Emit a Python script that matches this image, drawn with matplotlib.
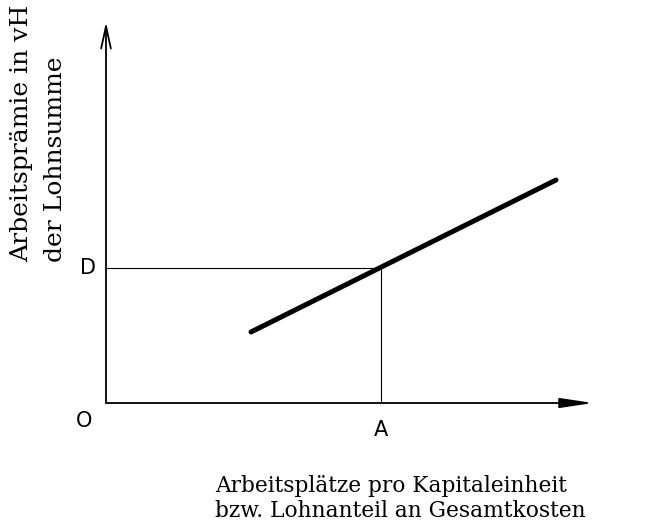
import matplotlib
matplotlib.use("Agg")
import matplotlib.pyplot as plt

# Point labels and positions (arbitrary units, origin O)
point_labels = ["O", "D", "A"]
a_x = 5.5
d_y = 2.7

# Thick relation line
line_x = [2.9, 9.0]
line_y = [1.42, 4.46]

# Axis extents
x_axis_end = 9.74
y_axis_end = 7.62

y_label_lines = ["Arbeitsprämie in vH", "der Lohnsumme"]
x_label_lines = ["Arbeitsplätze pro Kapitaleinheit", "bzw. Lohnanteil an Gesamtkosten"]

W, H = 664, 529
fig = plt.figure(figsize=(W / 100, H / 100), dpi=100)
ax = fig.add_axes([106 / W, (H - 403) / H, 500 / W, 400 / H])
ax.set_xlim(0, 10)
ax.set_ylim(0, 8)
ax.axis("off")

# axes as arrows
ax.annotate("", xy=(0, y_axis_end), xytext=(0, 0),
            arrowprops=dict(arrowstyle="->,head_length=1.6,head_width=0.35", lw=1.3, color="black",
                            shrinkA=0, shrinkB=0))
ax.annotate("", xy=(x_axis_end, 0), xytext=(0, 0),
            arrowprops=dict(arrowstyle="-|>,head_length=2.0,head_width=0.3", lw=1.3, color="black",
                            shrinkA=0, shrinkB=0))

# guide lines to D and A
ax.plot([0, a_x], [d_y, d_y], color="black", lw=0.8)
ax.plot([a_x, a_x], [0, d_y], color="black", lw=0.8)

# the thick line
ax.plot(line_x, line_y, color="black", lw=3.6, solid_capstyle="round")

sans = "DejaVu Sans"
ax.text(-0.36, d_y, point_labels[1], ha="center", va="center", fontsize=15, family=sans)
ax.text(-0.44, -0.36, point_labels[0], ha="center", va="center", fontsize=15, family=sans)
ax.text(a_x, -0.54, point_labels[2], ha="center", va="center", fontsize=15, family=sans)

serif = "DejaVu Serif"
fig.text(22 / W, (H - 262) / H, y_label_lines[0], rotation=90, ha="center", va="bottom",
         fontsize=18, family=serif)
fig.text(56 / W, (H - 262) / H, y_label_lines[1], rotation=90, ha="center", va="bottom",
         fontsize=18, family=serif)
fig.text(215 / W, (H - 486) / H, x_label_lines[0], ha="left", va="center",
         fontsize=15.7, family=serif)
fig.text(215 / W, (H - 511) / H, x_label_lines[1], ha="left", va="center",
         fontsize=15.7, family=serif)

fig.savefig("out.png", dpi=100)
